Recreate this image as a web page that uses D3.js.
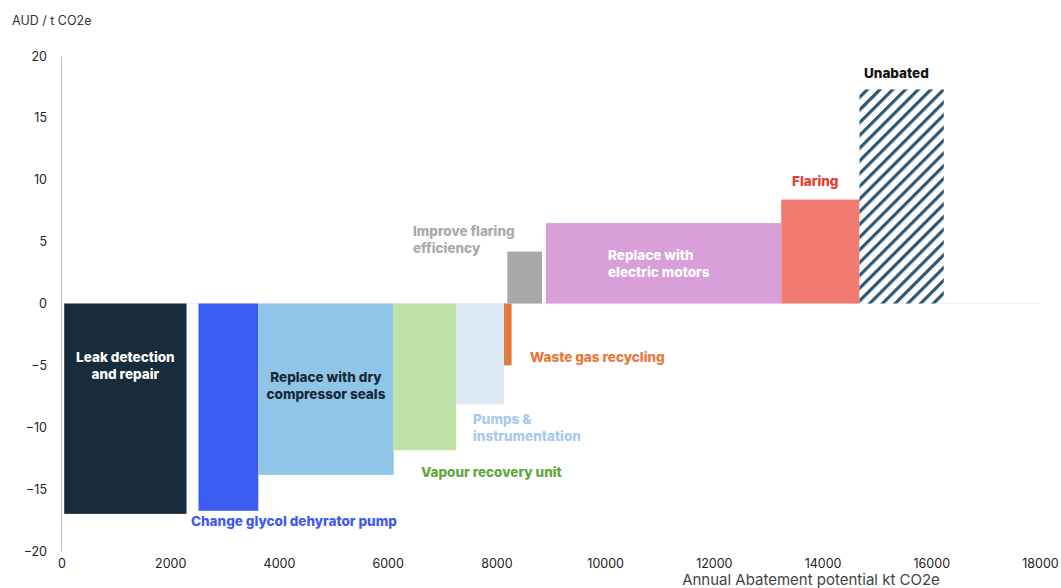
<!DOCTYPE html>
<html>
<head>
<meta charset="utf-8">
<script src="https://cdn.jsdelivr.net/npm/d3@7"></script>
<style>
  html, body { margin: 0; padding: 0; background: #ffffff; }
  svg { display: block; }
  text { font-family: Inter, "Noto Sans", sans-serif; }
</style>
</head>
<body>
<svg id="chart" width="1061" height="588"></svg>
<script>
// Abatement measures, in merit order
const measures = [
  "Leak detection and repair",
  "Change glycol dehyrator pump",
  "Replace with dry compressor seals",
  "Vapour recovery unit",
  "Pumps & instrumentation",
  "Waste gas recycling",
  "Improve flaring efficiency",
  "Replace with electric motors",
  "Flaring",
  "Unabated"
];
// Cumulative abatement where each block starts and its width (kt CO2e / yr)
const starts = [50, 2520, 3620, 6100, 7260, 8140, 8200, 8910, 13240, 14680];
const widths = [2250, 1100, 2490, 1160, 880, 140, 640, 4330, 1440, 1550];
// Cost of abatement (AUD / t CO2e)
const costs = [-17, -16.75, -13.85, -11.85, -8.15, -5, 4.2, 6.5, 8.4, 17.3];

const xTicks = [0, 2000, 4000, 6000, 8000, 10000, 12000, 14000, 16000, 18000];
const yTicks = [20, 15, 10, 5, 0, -5, -10, -15, -20];

// Block fills and label colours
const fills = ["#182c3b", "#3b5cf2", "#8fc5e7", "#bde2a5", "#dde8f5",
               "#e27a3d", "#a9a9a9", "#d99fd8", "#f27b71", "url(#hatch)"];
const labelStyle = [
  { color: "#ffffff", anchor: "middle", pos: "inside",  lines: ["Leak detection", "and repair"],        dx: 0,   y: 357 },
  { color: "#3d5af1", anchor: "start",  pos: "free",    lines: ["Change glycol dehyrator pump"],        x: 191, y: 521 },
  { color: "#18293a", anchor: "middle", pos: "inside",  lines: ["Replace with dry", "compressor seals"], dx: 0,   y: 377 },
  { color: "#63a640", anchor: "start",  pos: "free",    lines: ["Vapour recovery unit"],                x: 421, y: 472 },
  { color: "#a8c8ec", anchor: "start",  pos: "free",    lines: ["Pumps &", "instrumentation"],          x: 473, y: 419 },
  { color: "#e8773a", anchor: "start",  pos: "free",    lines: ["Waste gas recycling"],                 x: 530, y: 357 },
  { color: "#a9a9a9", anchor: "start",  pos: "free",    lines: ["Improve flaring", "efficiency"],       x: 413, y: 231 },
  { color: "#ffffff", anchor: "start",  pos: "free",    lines: ["Replace with", "electric motors"],     x: 608, y: 255 },
  { color: "#ea3a2e", anchor: "start",  pos: "free",    lines: ["Flaring"],                             x: 792, y: 181 },
  { color: "#111111", anchor: "start",  pos: "free",    lines: ["Unabated"],                            x: 864, y: 73 }
];

const svg = d3.select("#chart");

const x = d3.scaleLinear().domain([0, 18000]).range([61.5, 1040]);
const y = d3.scaleLinear().domain([-20, 20]).range([551, 56]);

// Diagonal hatch for the unabated block
const defs = svg.append("defs");
const pat = defs.append("pattern")
  .attr("id", "hatch")
  .attr("patternUnits", "userSpaceOnUse")
  .attr("width", 9).attr("height", 9)
  .attr("patternTransform", "rotate(45)");
pat.append("rect").attr("width", 9).attr("height", 9).attr("fill", "#ffffff");
pat.append("rect").attr("x", 0).attr("y", 0).attr("width", 3.2).attr("height", 9).attr("fill", "#2c5876");

// Faint zero line
svg.append("line")
  .attr("x1", x(0)).attr("x2", x(18000))
  .attr("y1", y(0)).attr("y2", y(0))
  .attr("stroke", "#f1f1f1").attr("stroke-width", 1);

// Blocks
const data = measures.map((m, i) => ({ name: m, x0: starts[i], w: widths[i], v: costs[i], fill: fills[i] }));
svg.append("g").selectAll("rect")
  .data(data)
  .join("rect")
  .attr("x", d => x(d.x0))
  .attr("width", d => x(d.x0 + d.w) - x(d.x0))
  .attr("y", d => y(Math.max(0, d.v)))
  .attr("height", d => Math.abs(y(d.v) - y(0)))
  .attr("fill", d => d.fill);

// Y axis
const yAxis = svg.append("g")
  .attr("transform", `translate(${x(0) - 0.5},0)`)
  .call(d3.axisLeft(y).tickValues(yTicks).tickSize(0).tickPadding(14));
yAxis.select(".domain").attr("stroke", "#c4c4c4").attr("stroke-width", 1.2);
yAxis.selectAll("text")
  .attr("font-size", 12.5).attr("fill", "#222")
  .style("font-family", "Inter, 'Noto Sans', sans-serif");

// X axis (labels only)
const xAxis = svg.append("g")
  .attr("transform", `translate(0,${y(-20)})`)
  .call(d3.axisBottom(x).tickValues(xTicks).tickSize(0).tickPadding(8).tickFormat(d3.format("d")));
xAxis.select(".domain").remove();
xAxis.selectAll("text")
  .attr("font-size", 12.5).attr("fill", "#222")
  .style("font-family", "Inter, 'Noto Sans', sans-serif");

// Axis titles
svg.append("text")
  .attr("x", 12).attr("y", 20)
  .attr("dominant-baseline", "central")
  .attr("font-size", 12.5).attr("fill", "#333")
  .text("AUD / t CO2e");

svg.append("text")
  .attr("x", 811).attr("y", 584.5)
  .attr("text-anchor", "middle")
  .attr("font-size", 15).attr("fill", "#444")
  .text("Annual Abatement potential kt CO2e");

// Block labels
const lbl = svg.append("g");
data.forEach((d, i) => {
  const s = labelStyle[i];
  const lx = s.pos === "inside" ? (x(d.x0) + x(d.x0 + d.w)) / 2 + s.dx : s.x;
  const t = lbl.append("text")
    .attr("text-anchor", s.anchor)
    .attr("font-size", 13.5)
    .attr("font-weight", 800)
    .attr("fill", s.color);
  s.lines.forEach((line, j) => {
    t.append("tspan")
      .attr("x", lx)
      .attr("y", s.y + j * 16.5)
      .attr("dominant-baseline", "central")
      .text(line);
  });
});
</script>
</body>
</html>
